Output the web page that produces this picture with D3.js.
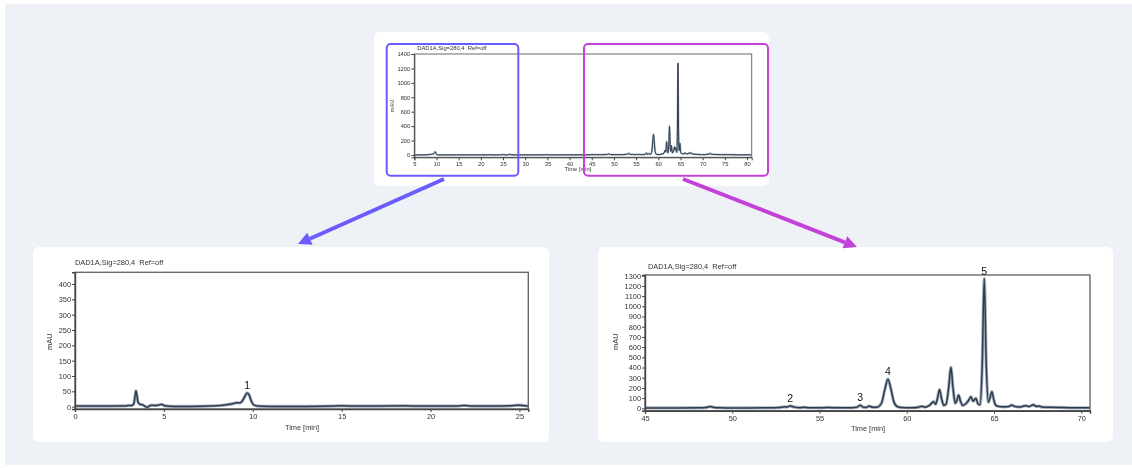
<!DOCTYPE html>
<html>
<head>
<meta charset="utf-8">
<script src="https://cdn.jsdelivr.net/npm/d3@7"></script>
<style>
  body { margin: 0; background: #ffffff; -webkit-font-smoothing: antialiased; }
  svg { display: block; font-family: "Liberation Sans", Arial, sans-serif; will-change: transform; }
  text.keep { white-space: pre; }
</style>
</head>
<body>
<svg id="fig" width="1132" height="468"></svg>
<script>
// DAD1A signal at 280 nm: retention time (min) and absorbance (mAU)
const retentionTime = [
  0, 1, 2, 2.8, 3.05, 3.15, 3.3, 3.38, 3.43, 3.48, 3.55, 3.65, 3.8, 3.95, 4.05, 4.15, 4.3, 4.45, 4.6, 4.75, 4.88, 5.0, 5.2, 5.6,
  6.5, 7.5, 8.2, 8.6, 8.9, 9.1, 9.25, 9.4, 9.55, 9.68, 9.8, 9.92, 10.05, 10.3, 11, 12, 13, 14.5, 15, 15.5, 17, 18.5, 19, 20,
  21.5, 21.9, 22.3, 23.5, 24.5, 24.9, 25.2, 25.5,
  26, 26.5, 27, 28, 30, 33, 35, 35.5, 38, 40, 42, 44,
  45, 46, 47, 48, 48.5, 48.73, 48.95, 49.3, 50, 51, 52, 52.7, 53.0, 53.15, 53.32, 53.55, 53.9, 54.1, 54.4, 55, 55.5, 55.7,
  56.2, 56.8, 57.15, 57.33, 57.5, 57.65, 57.85, 58.05, 58.3, 58.55, 58.75, 58.92, 59.08, 59.25, 59.45, 59.7, 60.2, 60.6,
  60.86, 61.05, 61.3, 61.53, 61.65, 61.75, 61.88, 62.0, 62.12, 62.25, 62.4, 62.53, 62.65, 62.78, 62.88, 62.97, 63.08, 63.2,
  63.35, 63.55, 63.68, 63.8, 63.96, 64.08, 64.2, 64.32, 64.44, 64.56, 64.68, 64.78, 64.88, 64.98, 65.1, 65.3, 65.6, 65.85,
  66.0, 66.2, 66.5, 66.83, 67.0, 67.27, 67.42, 67.55, 67.8, 68.3, 69, 69.5, 70, 70.5,
  71, 71.5, 71.7, 71.9, 72.5, 74, 76, 78, 81
];
const absorbance = [
  2, 2, 2, 2.5, 4, 3.5, 8, 35, 52, 38, 14, 8, 6, 1, -2, 1, 5, 4, 4, 6, 8, 4, 2, 1,
  1, 2, 4, 7, 10, 13, 12, 18, 33, 45, 38, 18, 6, 2, 1, 1, 1, 2, 3, 2, 2, 3, 2, 2,
  2, 4, 2, 2, 3, 5, 4, 2,
  2, 8, 3, 2, 2, 2, 4, 2, 2, 3, 2, 3,
  4, 4, 4, 5, 8, 18, 9, 6, 4, 4, 5, 8, 15, 13, 24, 12, 7, 10, 6, 5, 9, 7,
  6, 6, 12, 30, 12, 8, 22, 10, 12, 50, 190, 287, 200, 70, 18, 8, 6, 9,
  20, 12, 30, 65, 40, 90, 186, 90, 30, 40, 200, 402, 200, 50, 80, 130, 70, 28,
  40, 80, 114, 70, 98, 45, 35, 400, 1272, 400, 60, 110, 163, 90, 30, 18, 15, 18,
  32, 18, 14, 26, 17, 35, 18, 22, 12, 10, 8, 5, 6, 5,
  10, 15, 25, 12, 8, 5, 4, 3, 3
];

// Numbered peaks
const peakLabels = ["1", "2", "3", "4", "5"];
const peakTimes = [9.68, 53.32, 57.33, 58.92, 64.44];
const peakHeights = [45, 24, 30, 287, 1272];

// Axis ticks for the three views
const overviewTimeTicks = [5, 10, 15, 20, 25, 30, 35, 40, 45, 50, 55, 60, 65, 70, 75, 80];
const overviewMAUTicks = [0, 200, 400, 600, 800, 1000, 1200, 1400];
const earlyTimeTicks = [0, 5, 10, 15, 20, 25];
const earlyMAUTicks = [0, 50, 100, 150, 200, 250, 300, 350, 400];
const lateTimeTicks = [45, 50, 55, 60, 65, 70];
const lateMAUTicks = [0, 100, 200, 300, 400, 500, 600, 700, 800, 900, 1000, 1100, 1200, 1300];

const signalTitle = "DAD1A,Sig=280,4  Ref=off";
const trace = retentionTime.map((t, i) => ({ t, v: absorbance[i] }));

const svg = d3.select("#fig");

// page backdrop
svg.append("rect").attr("x", 5).attr("y", 4).attr("width", 1127).attr("height", 461).attr("fill", "#eef2f6");

// cards
const cards = [
  { x: 374, y: 32, w: 395, h: 154 },
  { x: 33, y: 247, w: 516, h: 195 },
  { x: 598, y: 247, w: 515, h: 195 }
];
svg.selectAll("rect.card").data(cards).join("rect")
  .attr("class", "card")
  .attr("x", d => d.x).attr("y", d => d.y)
  .attr("width", d => d.w).attr("height", d => d.h)
  .attr("rx", 6).attr("fill", "#ffffff");

let clipId = 0;
function drawPanel(p) {
  const x = d3.scaleLinear().domain(p.xDomain).range([p.left, p.right]);
  const y = d3.scaleLinear().domain(p.yDomain).range([p.bottom, p.top]);
  const g = svg.append("g");

  const id = "clip" + (clipId++);
  g.append("clipPath").attr("id", id).append("rect")
    .attr("x", p.left).attr("y", p.top)
    .attr("width", p.right - p.left).attr("height", p.bottom - p.top);

  const line = d3.line().x(d => x(d.t)).y(d => y(d.v)).curve(d3.curveMonotoneX);
  const tg = g.append("g").attr("clip-path", `url(#${id})`);
  tg.append("path").datum(trace).attr("d", line)
    .attr("fill", "none").attr("stroke", "#a7b1bd").attr("stroke-width", p.halo)
    .attr("stroke-linejoin", "round");
  tg.append("path").datum(trace).attr("d", line)
    .attr("fill", "none").attr("stroke", "#2c3b4d").attr("stroke-width", p.stroke)
    .attr("stroke-linejoin", "round");

  // plot frame
  g.append("rect")
    .attr("x", p.left).attr("y", p.top)
    .attr("width", p.right - p.left).attr("height", p.bottom - p.top)
    .attr("fill", "none").attr("stroke", "#6a6a6a").attr("stroke-width", p.frame);

  const yAxis = g.append("g").attr("transform", `translate(${p.left},0)`)
    .call(d3.axisLeft(y).tickValues(p.yTicks).tickSize(3).tickPadding(1).tickFormat(d3.format("d")));
  const xAxis = g.append("g").attr("transform", `translate(0,${p.bottom})`)
    .call(d3.axisBottom(x).tickValues(p.xTicks).tickSize(3).tickPadding(2).tickFormat(d3.format("d")));
  [yAxis, xAxis].forEach(a => {
    a.select(".domain").attr("stroke", "#444").attr("stroke-width", p.frame);
    a.selectAll(".tick line").attr("stroke", "#444");
    a.selectAll(".tick text").attr("font-size", p.font).attr("fill", "#333")
      .attr("font-family", "Liberation Sans, Arial, sans-serif");
  });

  g.append("text").attr("class", "keep")
    .attr("x", p.left + p.titleDx).attr("y", p.top - p.titleDy)
    .attr("font-size", p.font).attr("fill", "#333").text(signalTitle);
  g.append("text")
    .attr("x", p.timeX).attr("y", p.timeY).attr("text-anchor", "middle")
    .attr("font-size", p.font).attr("fill", "#333").text("Time [min]");
  g.append("text")
    .attr("transform", `translate(${p.mauX},${p.mauY}) rotate(-90)`)
    .attr("text-anchor", "middle").attr("font-size", p.font).attr("fill", "#333").text("mAU");

  if (p.peaks) {
    peakLabels.forEach((lab, i) => {
      const t = peakTimes[i];
      if (t < p.xDomain[0] || t > p.xDomain[1]) return;
      g.append("text")
        .attr("x", x(t)).attr("y", y(peakHeights[i]) - 4)
        .attr("text-anchor", "middle").attr("font-size", 10.5).attr("fill", "#111").text(lab);
    });
  }
}

// overview of the full run
drawPanel({
  left: 414.3, right: 751.7, top: 54, bottom: 157.3,
  xDomain: [5, 81.06], yDomain: [-32, 1400],
  xTicks: overviewTimeTicks, yTicks: overviewMAUTicks,
  font: 5.8, frame: 1, stroke: 1, halo: 1.8,
  titleDx: 3, titleDy: 4, timeX: 578, timeY: 171, mauX: 394, mauY: 106, peaks: false
});
// early window, 0–25 min
drawPanel({
  left: 75, right: 528.3, top: 272.3, bottom: 409,
  xDomain: [0, 25.5], yDomain: [-7.5, 438],
  xTicks: earlyTimeTicks, yTicks: earlyMAUTicks,
  font: 7.4, frame: 1.4, stroke: 1.5, halo: 3.2,
  titleDx: 0, titleDy: 7, timeX: 302, timeY: 429.5, mauX: 52, mauY: 341.7, peaks: true
});
// late window, 45–70 min
drawPanel({
  left: 645, right: 1090, top: 275, bottom: 410.7,
  xDomain: [45, 70.5], yDomain: [-23, 1307],
  xTicks: lateTimeTicks, yTicks: lateMAUTicks,
  font: 7.4, frame: 1.4, stroke: 1.5, halo: 3.2,
  titleDx: 3, titleDy: 6, timeX: 868, timeY: 430.5, mauX: 618, mauY: 341.7, peaks: true
});

// highlight boxes over the overview
const highlights = [
  { x: 386.7, y: 44, w: 131.6, h: 131.7, color: "#6a5cff" },
  { x: 584, y: 44, w: 184, h: 131.7, color: "#c242d8" }
];
svg.selectAll("rect.hl").data(highlights).join("rect")
  .attr("class", "hl")
  .attr("x", d => d.x).attr("y", d => d.y).attr("width", d => d.w).attr("height", d => d.h)
  .attr("rx", 4).attr("fill", "none").attr("stroke", d => d.color).attr("stroke-width", 2);

// arrows from each box to its zoomed panel
const arrows = [
  { x1: 444, y1: 179, x2: 298, y2: 244, color: "#6a5cff" },
  { x1: 683, y1: 179, x2: 857, y2: 247, color: "#c242d8" }
];
arrows.forEach(a => {
  const ang = Math.atan2(a.y2 - a.y1, a.x2 - a.x1);
  const headLen = 13, headHalf = 6.5;
  const bx = a.x2 - headLen * Math.cos(ang), by = a.y2 - headLen * Math.sin(ang);
  svg.append("line")
    .attr("x1", a.x1).attr("y1", a.y1).attr("x2", bx).attr("y2", by)
    .attr("stroke", a.color).attr("stroke-width", 4);
  const nx = -Math.sin(ang), ny = Math.cos(ang);
  svg.append("path")
    .attr("d", `M${a.x2},${a.y2} L${bx + nx * headHalf},${by + ny * headHalf} L${bx - nx * headHalf},${by - ny * headHalf} Z`)
    .attr("fill", a.color);
});
</script>
</body>
</html>
